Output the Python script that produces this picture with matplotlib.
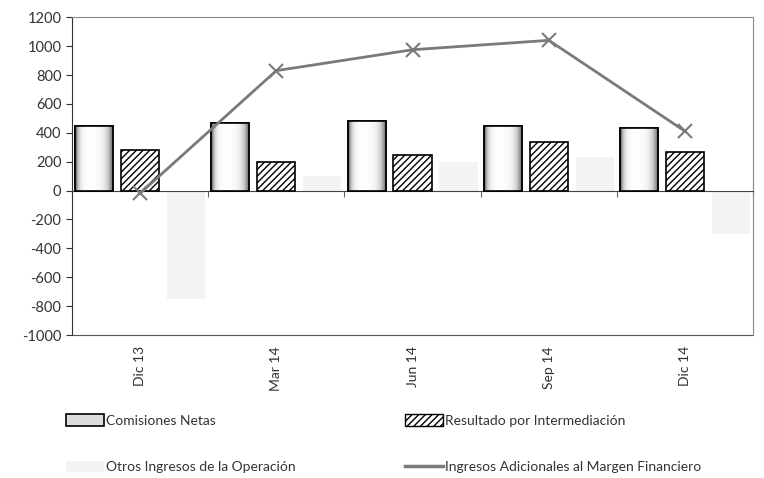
import numpy as np
import matplotlib
matplotlib.use("Agg")
import matplotlib.pyplot as plt
from matplotlib.patches import Patch
from matplotlib.lines import Line2D

plt.rcParams['font.family'] = ['Lato', 'DejaVu Sans']
plt.rcParams['axes.unicode_minus'] = False

# data
periodos = ["Dic 13", "Mar 14", "Jun 14", "Sep 14", "Dic 14"]
comisiones = [450, 470, 485, 445, 430]
intermediacion = [280, 200, 245, 335, 265]
otros = [-750, 100, 200, 230, -300]
adicionales = [-20, 830, 975, 1040, 410]

fig = plt.figure(figsize=(7.64, 4.78), dpi=100)
ax = fig.add_axes([0.094, 0.299, 0.892, 0.665])

x = np.arange(len(periodos))
step = 0.337
w = 0.28

# Comisiones: white bars with a cylinder-like shading
bars = ax.bar(x - step, comisiones, w, facecolor='white', edgecolor='black',
              linewidth=1.2, zorder=3)
t = np.linspace(0, 1, 200)
shade = 1 - 0.8 * np.exp(-t / 0.07) - 0.85 * np.exp(-(1 - t) / 0.11)
shade = np.clip(shade, 0, 1)[None, :]
for b in bars:
    x0, y0 = b.get_x(), b.get_y()
    im = ax.imshow(shade, extent=[x0, x0 + b.get_width(), y0, y0 + b.get_height()],
                   cmap='gray', vmin=0, vmax=1, aspect='auto', zorder=3.1,
                   interpolation='bilinear')
    im.set_clip_path(b)
ax.bar(x - step, comisiones, w, facecolor='none', edgecolor='black',
       linewidth=1.2, zorder=3.2)

plt.rcParams['hatch.linewidth'] = 1.0
ax.bar(x, intermediacion, w, facecolor='white', edgecolor='black',
       hatch='/////', linewidth=1.2, zorder=3)
ax.bar(x + step, otros, w, color='#f3f3f3', linewidth=0, zorder=2)

ax.plot(x, adicionales, color='#7a7a7a', linewidth=2, marker='x',
        markersize=10, markeredgewidth=1.5, zorder=4)

ax.set_xlim(-0.5, len(periodos) - 0.5)
ax.set_ylim(-1000, 1200)
ax.set_yticks(np.arange(-1000, 1201, 200))
ax.tick_params(axis='y', direction='out', length=4, labelsize=10.5,
               labelcolor='#333333', color='#333333')

# category axis crossing at zero, ticks between categories
ax.spines['bottom'].set_position(('data', 0))
ax.spines['bottom'].set_color('#444444')
ax.set_xticks(np.arange(-0.5, len(periodos), 1))
ax.set_xticklabels([])
ax.tick_params(axis='x', direction='out', length=4, color='#666666')

sec = ax.secondary_xaxis(0)
sec.set_xticks(x, labels=periodos, rotation=90)
sec.tick_params(length=0, labelsize=10, labelcolor='#333333', pad=8)
sec.spines['bottom'].set_color('#555555')

ax.spines['left'].set_color('#333333')
for s in ['top', 'right']:
    ax.spines[s].set_color('#888888')

h1 = Patch(facecolor='#dcdcdc', edgecolor='black', linewidth=1.2)
h2 = Patch(facecolor='white', edgecolor='black', hatch='/////', linewidth=1.0)
h3 = Patch(facecolor='#f3f3f3', edgecolor='none')
h4 = Line2D([], [], color='#7a7a7a', linewidth=2.5)

kw = dict(frameon=False, fontsize=10, handlelength=2.7, handleheight=0.9,
          handletextpad=0.15, labelspacing=2.45, loc='upper left',
          labelcolor='#333333', borderaxespad=0, borderpad=0)
fig.legend([h1, h3], ["Comisiones Netas", "Otros Ingresos de la Operación"],
           bbox_to_anchor=(66 / 764, 1 - 414 / 478), **kw)
fig.legend([h2, h4], ["Resultado por Intermediación",
                      "Ingresos Adicionales al Margen Financiero"],
           bbox_to_anchor=(405 / 764, 1 - 414 / 478), **kw)

fig.savefig("out.png", dpi=100)
